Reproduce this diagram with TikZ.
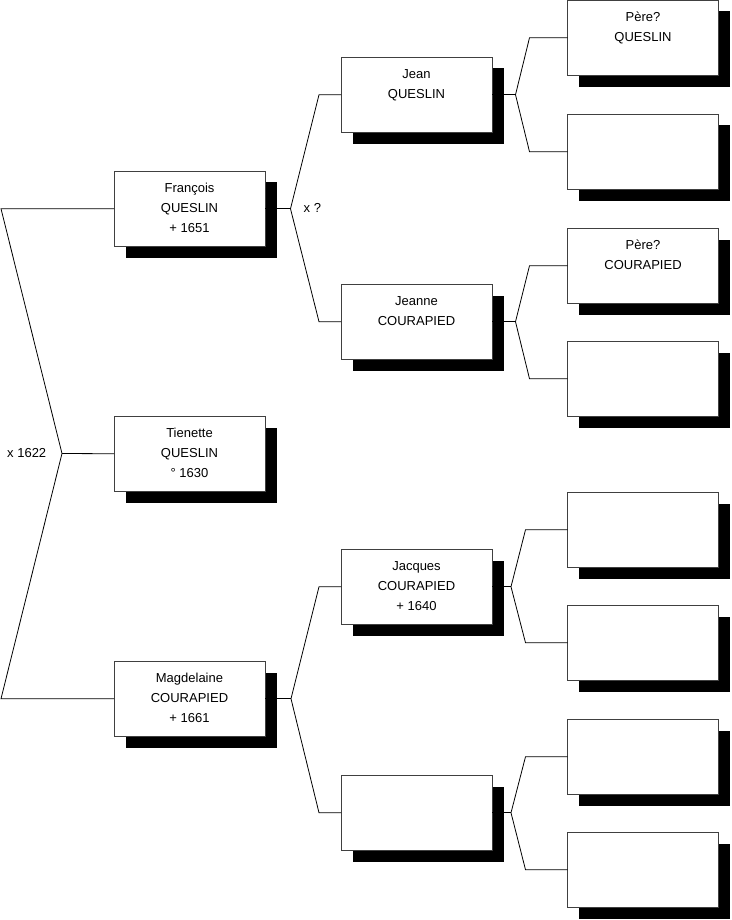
\documentclass[tikz,border=0pt]{standalone}
\usepackage{fontspec}
\setmainfont{Liberation Sans}
\usepackage{tikz}
\usetikzlibrary{calc, shadows}
\tikzset{%
    person/.style={%
        draw=black!75, line width=0.8pt, fill=white, anchor=north west,
        minimum width=151pt, minimum height=75.5pt, inner sep=0pt, outer sep=0pt,
        align=center, font=\fontsize{13}{20}\selectfont,
        drop shadow={shadow xshift=11.5pt, shadow yshift=-11.5pt, fill=black, opacity=1},
    },
    link/.style={%
        draw=black, line width=0.8pt,
    },
    wed/.style={%
        anchor=west, inner sep=0pt, font=\fontsize{13}{16}\selectfont,
    }
}
\newcommand{\who}[3]{\strut#1\\\strut#2\\\strut#3}
% parent, apex shift, elbow length, upper child, lower child
\newcommand{\fork}[5]{%
    \coordinate (#1-fork) at ($(#1.east)+(#2,0)$);
    \draw[link] (#1.east) -- (#1-fork);
    \draw[link] (#4.west) -- ++(-#3,0) -- (#1-fork) -- ($(#5.west)+(-#3,0)$) -- (#5.west);
}

\begin{document}
\begin{tikzpicture}[x=1pt, y=-1pt]
        \useasboundingbox (0,0) rectangle (731,920);

        % generation 1
        \node[person] (francois) at (114,171) {\who{François}{QUESLIN}{+ 1651}};
        \node[person] (tienette) at (114,416) {\who{Tienette}{QUESLIN}{° 1630}};
        \node[person] (magdelaine) at (114,661) {\who{Magdelaine}{COURAPIED}{+ 1661}};

        % generation 2
        \node[person] (jean) at (341,57) {\who{Jean}{QUESLIN}{}};
        \node[person] (jeanne) at (341,284) {\who{Jeanne}{COURAPIED}{}};
        \node[person] (jacques) at (341,549) {\who{Jacques}{COURAPIED}{+ 1640}};
        \node[person] (magmother) at (341,775) {};

        % generation 3
        \node[person] (jeanfather) at (567.5,0) {\who{Père?}{QUESLIN}{}};
        \node[person] (jeanmother) at (567.5,114) {};
        \node[person] (jeannefather) at (567.5,228) {\who{Père?}{COURAPIED}{}};
        \node[person] (jeannemother) at (567.5,341) {};
        \node[person] (jacquesfather) at (567.5,492) {};
        \node[person] (jacquesmother) at (567.5,605) {};
        \node[person] (magmotherfather) at (567.5,719) {};
        \node[person] (magmothermother) at (567.5,832) {};

        % tienette's parents
        \coordinate (tienette-fork) at (62,453.5);
        \draw[link] (francois.west) -- ++(-113,0) -- (tienette-fork) -- ($(magdelaine.west)+(-113,0)$) -- (magdelaine.west);
        \draw[link] (tienette-fork) -- (tienette.west);
        \node[wed] (wed1622) at (7,453.5) {x 1622};

        \fork{francois}{25.5}{22}{jean}{jeanne}
        \fork{magdelaine}{26}{22}{jacques}{magmother}
        \fork{jean}{23.5}{38}{jeanfather}{jeanmother}
        \fork{jeanne}{23.5}{38}{jeannefather}{jeannemother}
        \fork{jacques}{19}{42}{jacquesfather}{jacquesmother}
        \fork{magmother}{19}{42}{magmotherfather}{magmothermother}

        \node[wed] (wedq) at (303.5,207.5) {x ?};
\end{tikzpicture}
\end{document}
